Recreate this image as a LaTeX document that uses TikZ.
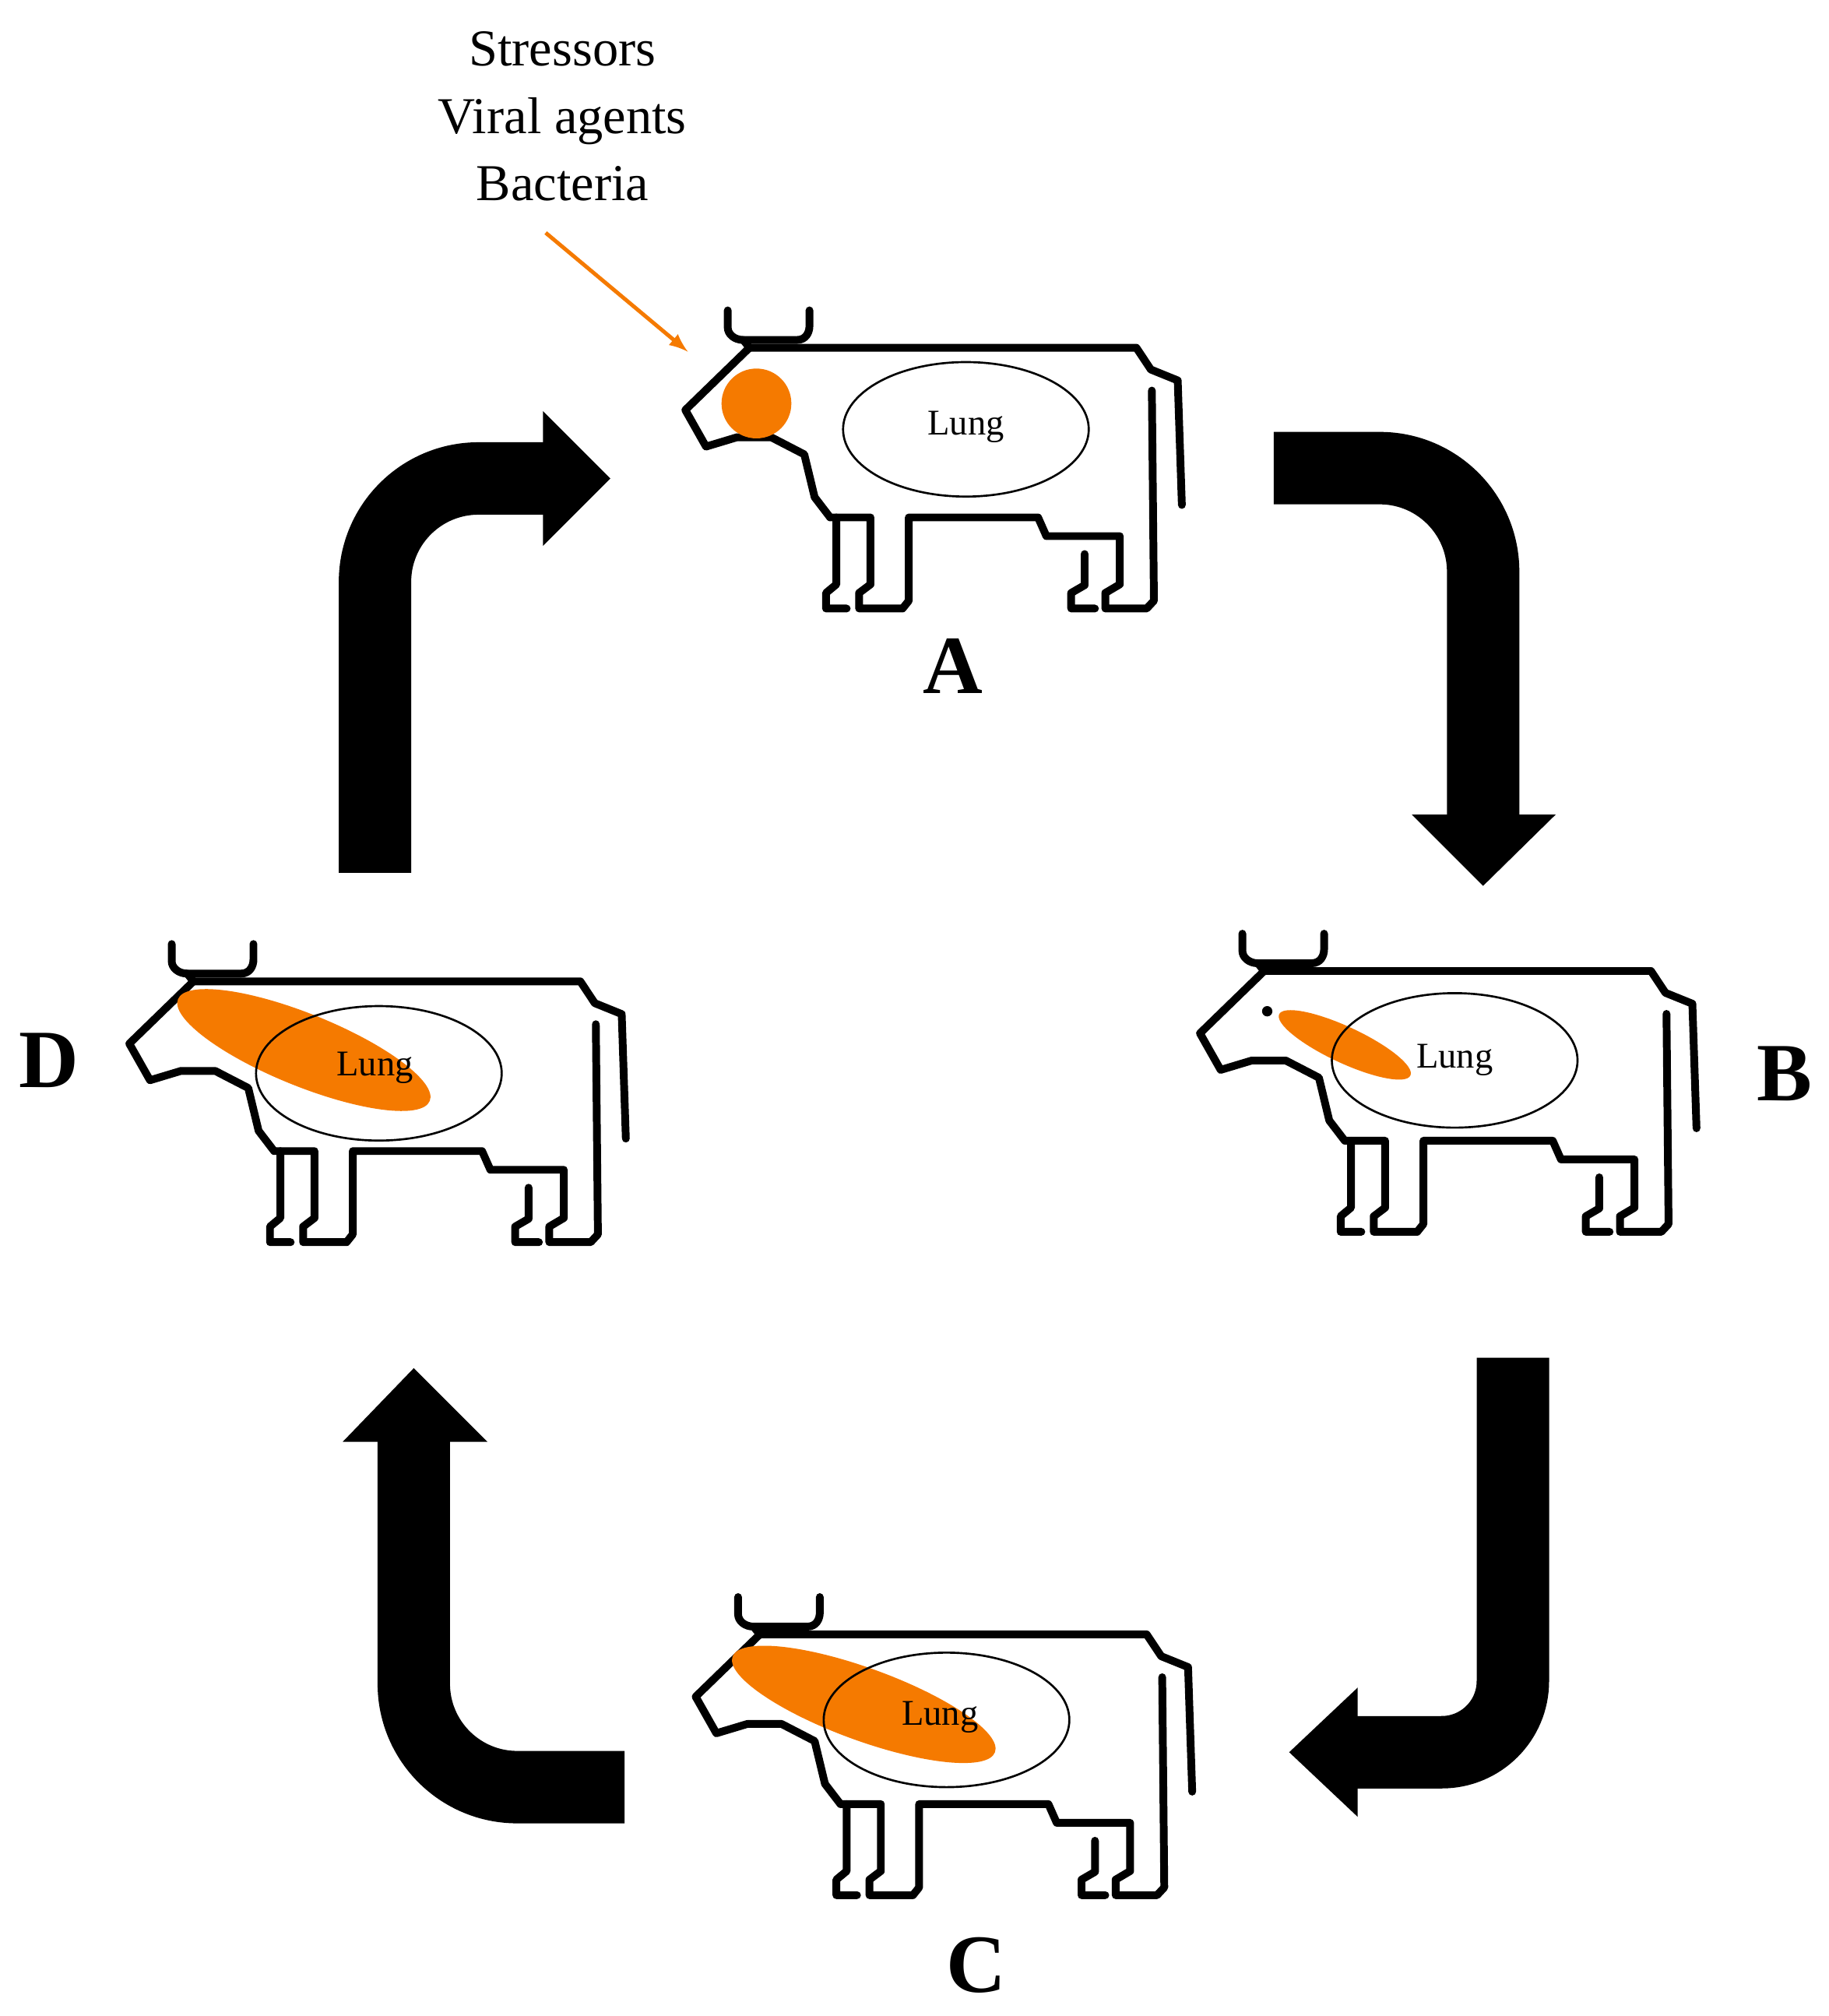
\documentclass[tikz,border=0pt]{standalone}
\usepackage{fontspec}
\setmainfont{Liberation Serif}
\definecolor{infor}{RGB}{245,122,0}
\begin{document}
\begin{tikzpicture}[x=0.5pt,y=-0.5pt,
  cowline/.style={line width=3pt,line join=round,line cap=round},
  lung/.style={line width=0.8pt},
  inf/.style={fill=infor},
  bigarrow/.style={line width=28pt},
  lab/.style={font=\fontsize{32}{34}\selectfont\bfseries},
  lungtxt/.style={font=\fontsize{14}{16}\selectfont}]
\useasboundingbox (0,0) rectangle (1414,1559);
\newcommand\mycow[2]{%
\begin{scope}[shift={(#1,#2)},xscale=0.8,yscale=0.602]
\draw[cowline] (41,0) -- (41,22) to[out=-90,in=180] (56,38) -- (108,38) to[out=0,in=-90] (120,20) -- (120,0);
\draw[cowline] (56,38) -- (62,48) -- (436,48) -- (450,76) -- (476,90) -- (480,250);
\draw[cowline] (62,48) -- (0,128) -- (20,175) -- (50,163) -- (83,163) -- (115,185) -- (125,240) -- (140,266) -- (179,266) -- (179,352) -- (168,363) -- (168,383) -- (210,383) -- (216,373) -- (216,266) -- (341,266) -- (349,290) -- (420,290) -- (420,352) -- (406,363) -- (406,383) -- (446,383) -- (453,373) -- (451,103);
\draw[cowline] (146,266) -- (146,352) -- (136,363) -- (136,383) -- (156,383);
\draw[cowline] (386,313) -- (386,353) -- (373,363) -- (373,383) -- (396,383);
\end{scope}}
% cows
\mycow{530}{240}
\mycow{928}{722}
\mycow{538}{1235}
\mycow{100}{730}
% A
\fill[inf] (585,312) circle [radius=27];
\draw[lung] (747,332) ellipse [x radius=95, y radius=52];
\node[lungtxt] (la) at (747,330) {Lung};
% B
\fill[inf] (1040,808) ellipse [x radius=56, y radius=14, rotate=-25];
\fill (980,782) circle [radius=4];
\draw[lung] (1125,820) ellipse [x radius=95, y radius=52];
\node[lungtxt] (lb) at (1125,820) {Lung};
% C
\fill[inf] (668,1318) ellipse [x radius=108, y radius=28, rotate=-20];
\draw[lung] (732,1330) ellipse [x radius=95, y radius=52];
\node[lungtxt] (lc) at (727,1328) {Lung};
% D
\fill[inf] (235,812) ellipse [x radius=105, y radius=28, rotate=-22];
\draw[lung] (293,830) ellipse [x radius=95, y radius=52];
\node[lungtxt] (ld) at (290,826) {Lung};
% labels
\node[lab] (A) at (737,515) {A};
\node[lab] (B) at (1380,830) {B};
\node[lab] (C) at (755,1520) {C};
\node[lab] (D) at (38,820) {D};
\node[font=\fontsize{20}{26}\selectfont,align=center] (src) at (435,90) {Stressors\\Viral agents\\Bacteria};
\coordinate (tipA) at (532,272);
\draw[line width=1.5pt,infor,-{latex}] (422,180) -- (tipA);
% big arrows
\draw[bigarrow] (290,675) -- (290,450) arc[start angle=180,end angle=270,radius=80] -- (422,370);
\fill (420,318) -- (472,370) -- (420,422) -- cycle;
\draw[bigarrow] (985,362) -- (1067,362) arc[start angle=270,end angle=360,radius=80] -- (1147,632);
\fill (1092,630) -- (1147,685) -- (1203,630) -- cycle;
\draw[bigarrow] (1170,1050) -- (1170,1300) arc[start angle=0,end angle=90,radius=55] -- (1048,1355);
\fill (1050,1305) -- (997,1355) -- (1050,1405) -- cycle;
\draw[bigarrow] (483,1382) -- (400,1382) arc[start angle=90,end angle=180,radius=80] -- (320,1113);
\fill (265,1115) -- (320,1058) -- (377,1115) -- cycle;
\end{tikzpicture}
\end{document}
